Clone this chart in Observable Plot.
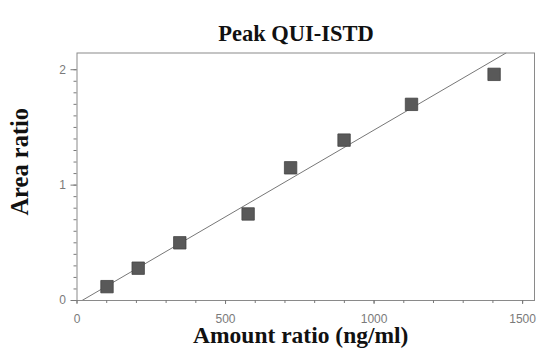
<!DOCTYPE html>
<html>
<head>
<meta charset="utf-8">
<script src="https://cdn.jsdelivr.net/npm/d3@7"></script>
<script src="https://cdn.jsdelivr.net/npm/@observablehq/plot@0.6"></script>
<style>
  html, body { margin: 0; padding: 0; background: #fff; }
  #chart svg { display: block; }
</style>
</head>
<body>
<div id="chart"></div>
<script>
// Data
const amountRatio = [101, 206, 346, 576, 719, 899, 1126, 1404];
const areaRatio   = [0.12, 0.28, 0.50, 0.75, 1.15, 1.39, 1.70, 1.96];
// Calibration line end points
const fitX = [17, 1444];
const fitY = [0, 2.145];
// Ticks
const xMajorTicks = [0, 500, 1000, 1500];
const xMinorTicks = d3.range(0, 1501, 100);
const yMajorTicks = [0, 1, 2];
const yMinorTicks = d3.range(0, 21).map(i => i / 10);

const titleText = "Peak QUI-ISTD";
const xLabelText = "Amount ratio (ng/ml)";
const yLabelText = "Area ratio";

const points = amountRatio.map((x, i) => ({x, y: areaRatio[i]}));
const fitLine = fitX.map((x, i) => ({x, y: fitY[i]}));

const serif = "'Liberation Serif', 'Times New Roman', serif";
const sans = "'Liberation Sans', Arial, sans-serif";
const axisColor = "#7a7a7a";

const chart = Plot.plot({
  width: 540,
  height: 354,
  marginLeft: 76.5,
  marginRight: 6,
  marginTop: 52.5,
  marginBottom: 54,
  style: {background: "#fff", overflow: "visible"},
  x: {domain: [0, 1540]},
  y: {domain: [0, 2.145]},
  marks: [
    Plot.frame({stroke: "#8a8a8a", strokeWidth: 1}),
    Plot.axisX({ticks: xMinorTicks, tickSize: 3, tickFormat: () => "", stroke: axisColor, label: null}),
    Plot.axisX({ticks: xMajorTicks, tickSize: 4, tickPadding: 10, color: axisColor,
      fontSize: 12, fontFamily: sans, label: null, tickFormat: d3.format("d")}),
    Plot.axisY({ticks: yMinorTicks, tickSize: 3, tickFormat: () => "", stroke: axisColor, label: null}),
    Plot.axisY({ticks: yMajorTicks, tickSize: 6, tickPadding: 5, color: axisColor,
      fontSize: 12, fontFamily: sans, label: null, tickFormat: d3.format("d")}),
    Plot.line(fitLine, {x: "x", y: "y", stroke: "#777", strokeWidth: 1, clip: true}),
    Plot.dot(points, {x: "x", y: "y", symbol: "square", r: 7, fill: "#595959", stroke: "#444", strokeWidth: 0.8}),
    Plot.text([titleText], {text: d => d, frameAnchor: "top", dx: -9.7, dy: -27.7,
      fontSize: 22.5, fontWeight: "bold", fontFamily: serif, fill: "#111", letterSpacing: "-0.3px"}),
    Plot.text([xLabelText], {text: d => d, frameAnchor: "bottom", textAnchor: "middle", dx: -5, dy: 42.5,
      fontSize: 23.5, fontWeight: "bold", fontFamily: serif, fill: "#111", letterSpacing: "0.1px"}),
    Plot.text([yLabelText], {text: d => d, frameAnchor: "left", textAnchor: "middle", rotate: -90, dx: -57, dy: -15,
      fontSize: 24.5, fontWeight: "bold", fontFamily: serif, fill: "#111", letterSpacing: "-0.2px"})
  ]
});

document.getElementById("chart").appendChild(chart);
</script>
</body>
</html>
